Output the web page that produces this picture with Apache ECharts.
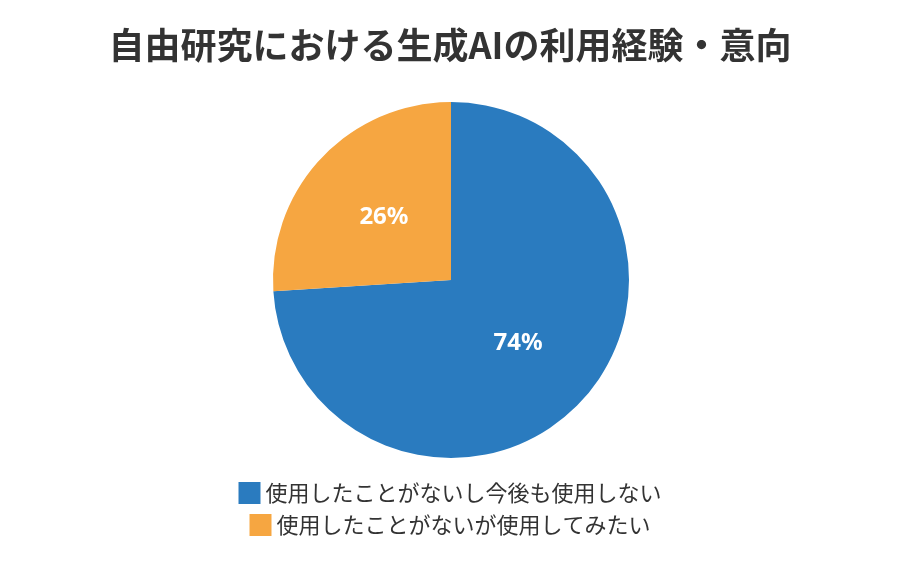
<!DOCTYPE html>
<html><head><meta charset="utf-8">
<script src="https://cdn.jsdelivr.net/npm/echarts@6/dist/echarts.min.js"></script>
<style>html,body{margin:0;background:#fff}#c{width:900px;height:562px}</style>
</head><body><div id="c"></div>
<script>
const categories = ['使用したことがないし今後も使用しない', '使用したことがないが使用してみたい'];
const values = [74, 26];
const colors = ['#2a7bbf', '#f6a641'];

const legendText = { fontFamily: 'Noto Sans CJK JP', fontSize: 22, color: '#333' };
const chart = echarts.init(document.getElementById('c'));
chart.setOption({
  title: {
    text: '自由研究における生成AIの利用経験・意向',
    left: 'center', top: 22,
    textStyle: { fontFamily: 'Noto Sans CJK JP', fontSize: 36, fontWeight: 'bold', color: '#333' }
  },
  legend: [
    { left: 'center', top: 477, itemWidth: 22, itemHeight: 22, icon: 'rect', textStyle: legendText, data: [categories[0]] },
    { left: 'center', top: 509, itemWidth: 22, itemHeight: 22, icon: 'rect', textStyle: legendText, data: [categories[1]] }
  ],
  series: [{
    type: 'pie', center: [451, 280], radius: 178, startAngle: 90,
    color: colors, silent: true,
    label: { position: 'inside', formatter: '{c}%', color: '#fff', fontSize: 24, fontWeight: 'bold', fontFamily: 'Noto Sans' },
    labelLine: { show: false },
    data: categories.map((n, i) => ({ name: n, value: values[i] }))
  }]
});
</script></body></html>
